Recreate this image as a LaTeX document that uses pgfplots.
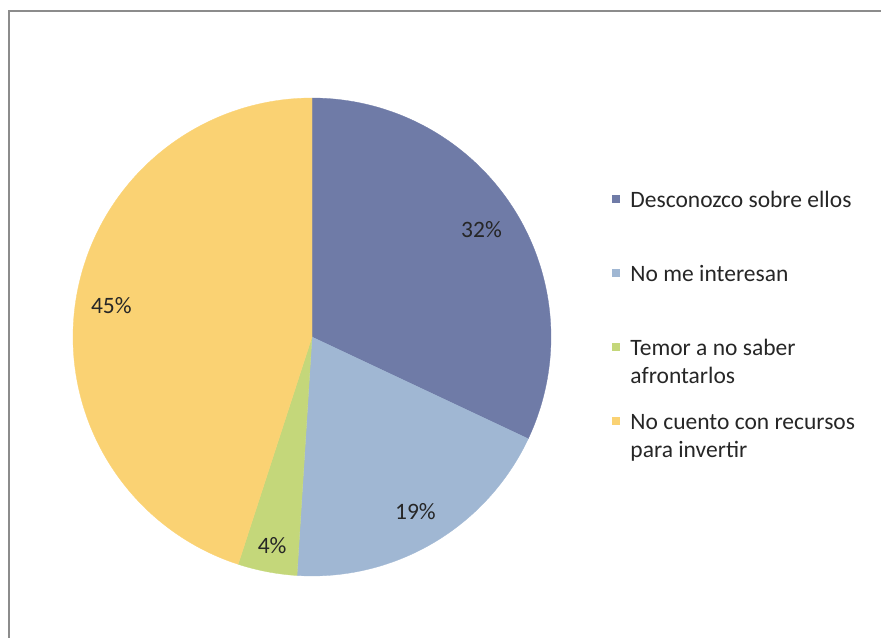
\documentclass[border=0pt]{standalone}
\usepackage{pgfplots}
\pgfplotsset{compat=1.18}
\usepgfplotslibrary{polar}
\usepackage{fontspec}
\setmainfont{Carlito}
\definecolor{cA}{RGB}{111,123,167}
\definecolor{cB}{RGB}{160,183,211}
\definecolor{cC}{RGB}{196,215,122}
\definecolor{cD}{RGB}{250,210,115}
% shares in percent
\def\pA{32}\def\pB{19}\def\pC{4}\def\pD{45}
\begin{document}
\begin{tikzpicture}
\pgfmathsetmacro\aS{90}
\pgfmathsetmacro\aA{\aS-3.6*\pA}
\pgfmathsetmacro\aB{\aA-3.6*\pB}
\pgfmathsetmacro\aC{\aB-3.6*\pC}
\pgfmathsetmacro\aD{\aC-3.6*\pD}
\pgfmathsetmacro\mA{(\aS+\aA)/2}
\pgfmathsetmacro\mB{(\aA+\aB)/2}
\pgfmathsetmacro\mC{(\aB+\aC)/2}
\pgfmathsetmacro\mD{(\aC+\aD)/2}
\path[use as bounding box] (0,0) rectangle (881bp,638bp);
\draw[gray!90, line width=2bp] (9bp,0) -- (9bp,627bp) -- (881bp,627bp);
\begin{polaraxis}[
  at={(312bp,301bp)}, anchor=center,
  width=478bp, height=478bp, scale only axis,
  hide axis, ymin=0, ymax=1, clip=false,
  font=\fontsize{23.5bp}{28bp}\selectfont,
  legend cell align=left,
  legend image code/.code={\fill[#1] (0bp,24.5bp) rectangle (7bp,31.5bp);},
  legend style={draw=none, fill=none, inner sep=0pt, column sep=11bp, row sep=0pt,
    at={(axis description cs:1.1276,0.8096)}, anchor=north west,
    text=black!85,
    nodes={inner sep=0pt, text height=18bp, text depth=56bp}},
]
\addplot[fill=cA, draw=cA, line width=0.3bp, domain=\aA:\aS, samples=120] {1} -- (axis cs:0,0) -- cycle;
\addlegendentry{\parbox[t]{250bp}{Desconozco sobre ellos}}
\addplot[fill=cB, draw=cB, line width=0.3bp, domain=\aB:\aA, samples=80] {1} -- (axis cs:0,0) -- cycle;
\addlegendentry{\parbox[t]{250bp}{No me interesan}}
\addplot[fill=cC, draw=cC, line width=0.3bp, domain=\aC:\aB, samples=20] {1} -- (axis cs:0,0) -- cycle;
\addlegendentry{\parbox[t]{250bp}{Temor a no saber\\afrontarlos}}
\addplot[fill=cD, draw=cD, line width=0.3bp, domain=\aD:\aC, samples=160] {1} -- (axis cs:0,0) -- cycle;
\addlegendentry{\parbox[t]{250bp}{No cuento con recursos\\para invertir}}
\node[text=black!85] at (axis cs:\mA,0.84) {\pA\%};
\node[text=black!85] at (axis cs:\mB,0.85) {\pB\%};
\node[text=black!85] at (axis cs:\mC,0.89) {\pC\%};
\node[text=black!85] at (axis cs:\mD,0.85) {\pD\%};
\end{polaraxis}
\end{tikzpicture}
\end{document}
